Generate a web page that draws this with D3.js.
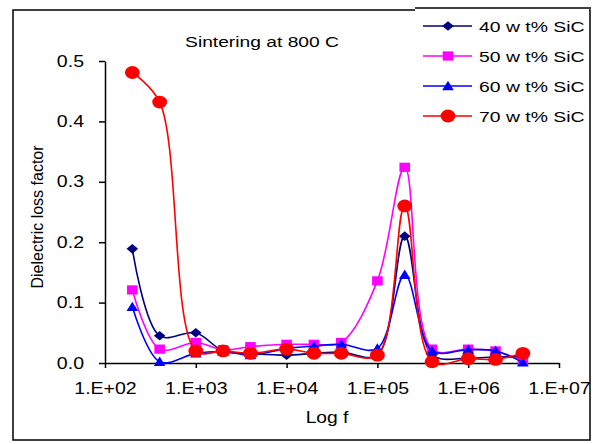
<!DOCTYPE html>
<html>
<head>
<meta charset="utf-8">
<script src="https://cdn.jsdelivr.net/npm/d3@7"></script>
<style>
  body { margin: 0; background: #fff; }
  svg { display: block; font-family: "Liberation Sans", Arial, sans-serif; }
</style>
</head>
<body>
<div id="chart"></div>
<script>
// frequencies (Hz) of the measured points
const freqs = [2e2, 4e2, 1e3, 2e3, 4e3, 1e4, 2e4, 4e4, 1e5, 2e5, 4e5, 1e6, 2e6, 4e6]

// dielectric loss factor for each composition
const sic40 = [0.189, 0.045, 0.050, 0.020, 0.016, 0.013, 0.016, 0.018, 0.013, 0.210, 0.014, 0.008, 0.010, 0.010]
const sic50 = [0.121, 0.023, 0.034, 0.022, 0.027, 0.031, 0.031, 0.034, 0.136, 0.324, 0.023, 0.023, 0.020, 0.003]
const sic60 = [0.093, 0.002, 0.016, 0.019, 0.013, 0.024, 0.028, 0.031, 0.024, 0.146, 0.020, 0.022, 0.020, 0.001]
const sic70 = [0.481, 0.432, 0.020, 0.020, 0.016, 0.023, 0.016, 0.016, 0.013, 0.260, 0.002, 0.007, 0.006, 0.016]

const seriesNames = ["40 w t% SiC", "50 w t% SiC", "60 w t% SiC", "70 w t% SiC"]
const seriesValues = [sic40, sic50, sic60, sic70]
const seriesColors = ["#000080", "#ff00ff", "#0000ff", "#ff0000"]
const seriesMarkers = ["diamond", "square", "triangle", "circle"]

const xTicks = [1e2, 1e3, 1e4, 1e5, 1e6, 1e7]
const yTicks = [0, 0.1, 0.2, 0.3, 0.4, 0.5]

const W = 593, H = 444
// the original picture is stretched sideways, text too
const STRETCH = 1.27

const svg = d3.select("#chart").append("svg")
  .attr("width", W)
  .attr("height", H)

// outer frame
svg.append("rect")
  .attr("x", 13).attr("y", 10)
  .attr("width", 577).attr("height", 430)
  .attr("fill", "#fff")
  .attr("stroke", "#000")
  .attr("stroke-width", 1.5)

const x = d3.scaleLog().domain([1e2, 1e7]).range([105, 559])
const y = d3.scaleLinear().domain([0, 0.5]).range([363, 61])

function stretchText(sel, k = STRETCH) {
  sel.each(function () {
    const len = this.getComputedTextLength()
    d3.select(this)
      .attr("textLength", len * k)
      .attr("lengthAdjust", "spacingAndGlyphs")
  })
}

// axes
const xAxis = svg.append("g")
  .attr("transform", `translate(0,${y(0)})`)
  .call(d3.axisBottom(x)
    .tickValues(xTicks)
    .tickSize(5)
    .tickSizeOuter(0)
    .tickPadding(15)
    .tickFormat(d => "1.E+" + String(Math.round(Math.log10(d))).padStart(2, "0")))

const yAxis = svg.append("g")
  .attr("transform", `translate(${x(1e2)},0)`)
  .call(d3.axisLeft(y)
    .tickValues(yTicks)
    .tickSize(6)
    .tickSizeOuter(0)
    .tickPadding(15)
    .tickFormat(d3.format(".1f")))

for (const g of [xAxis, yAxis]) {
  g.select(".domain").attr("stroke-width", 1.5)
  g.selectAll(".tick line").attr("stroke-width", 1.5)
  g.selectAll(".tick text")
    .attr("font-size", 16)
    .attr("fill", "#000")
    .call(stretchText, 1.22)
}

// marker shapes, a bit wider than tall like the original
function markerPath(type) {
  switch (type) {
    case "diamond": return "M0,-4.8L5.8,0L0,4.8L-5.8,0Z"
    case "square": return "M-5.3,-4.6H5.3V4.6H-5.3Z"
    case "triangle": return "M0,-5.2L5.8,4.2L-5.8,4.2Z"
    default: return null
  }
}

function drawMarker(g, type, color, cx, cy) {
  if (type === "circle") {
    g.append("ellipse")
      .attr("cx", cx).attr("cy", cy)
      .attr("rx", 7.4).attr("ry", 6.4)
      .attr("fill", color)
  } else {
    g.append("path")
      .attr("d", markerPath(type))
      .attr("transform", `translate(${cx},${cy})`)
      .attr("fill", color)
  }
}

const line = d3.line()
  .x(d => x(d[0]))
  .y(d => y(d[1]))
  .curve(d3.curveCatmullRom.alpha(0.5))

const plot = svg.append("g")

seriesValues.forEach((vals, i) => {
  const pts = freqs.map((f, j) => [f, vals[j]])
  const g = plot.append("g")
  g.append("path")
    .datum(pts)
    .attr("d", line)
    .attr("fill", "none")
    .attr("stroke", seriesColors[i])
    .attr("stroke-width", 1.6)
  pts.forEach(p => drawMarker(g, seriesMarkers[i], seriesColors[i], x(p[0]), y(p[1])))
})

// title
svg.append("text")
  .attr("x", 262).attr("y", 47)
  .attr("text-anchor", "middle")
  .attr("font-size", 15.5)
  .text("Sintering at 800 C")
  .call(stretchText, 1.24)

// axis titles
svg.append("text")
  .attr("x", 327).attr("y", 423)
  .attr("text-anchor", "middle")
  .attr("font-size", 16)
  .text("Log f")
  .call(stretchText, 1.2)

svg.append("text")
  .attr("transform", "translate(43,217) rotate(-90)")
  .attr("text-anchor", "middle")
  .attr("font-size", 16)
  .text("Dielectric loss factor")

// legend
const legend = svg.append("g")
legend.append("rect")
  .attr("x", 415).attr("y", 9)
  .attr("width", 174).attr("height", 122)
  .attr("fill", "#fff")
legend.append("line")
  .attr("x1", 415).attr("x2", 591)
  .attr("y1", 8).attr("y2", 8)
  .attr("stroke", "#000")
  .attr("stroke-width", 1.5)

seriesNames.forEach((name, i) => {
  const ly = 26 + i * 30
  legend.append("line")
    .attr("x1", 423).attr("x2", 472)
    .attr("y1", ly).attr("y2", ly)
    .attr("stroke", seriesColors[i])
    .attr("stroke-width", 1.6)
  drawMarker(legend, seriesMarkers[i], seriesColors[i], 448, ly)
  legend.append("text")
    .attr("x", 479).attr("y", ly + 6)
    .attr("font-size", 15.5)
    .text(name)
    .call(stretchText, 1.25)
})
</script>
</body>
</html>
